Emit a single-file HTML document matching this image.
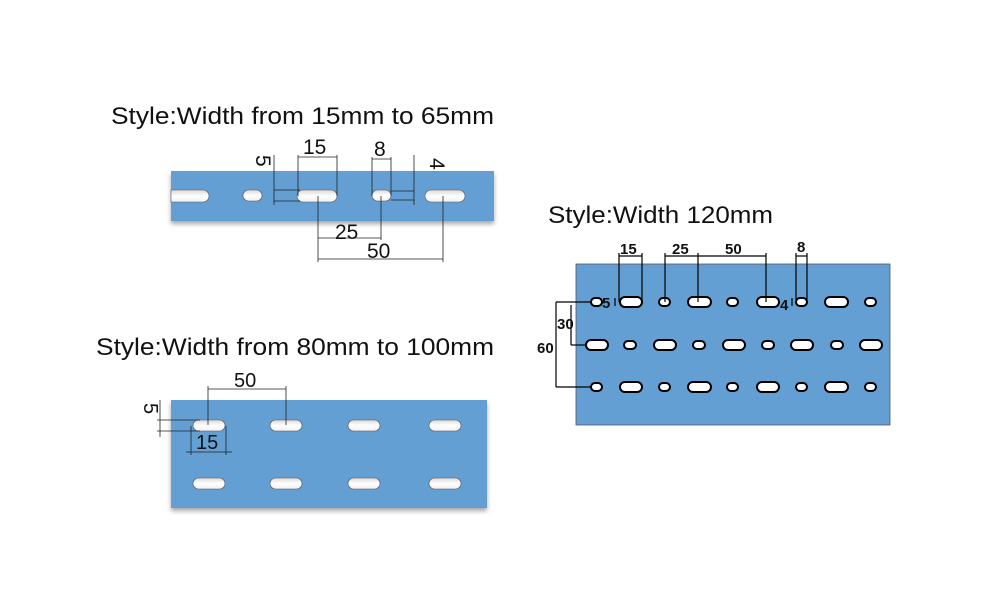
<!DOCTYPE html>
<html><head><meta charset="utf-8"><style>
html,body{margin:0;padding:0;background:#fff;width:1000px;height:600px;overflow:hidden}
text{font-family:"Liberation Sans",sans-serif;fill:#111}
</style></head><body>
<svg width="1000" height="600" viewBox="0 0 1000 600" xmlns="http://www.w3.org/2000/svg">
<defs>
<filter id="sh" x="-5%" y="-10%" width="110%" height="130%"><feDropShadow dx="0" dy="3" stdDeviation="2.5" flood-color="#000" flood-opacity="0.35"/></filter>
<linearGradient id="hole" x1="0" y1="0" x2="0" y2="1"><stop offset="0" stop-color="#d8d8d8"/><stop offset="0.5" stop-color="#fff"/><stop offset="1" stop-color="#f0f0f0"/></linearGradient>
</defs>

<text x="111" y="124" font-size="24" textLength="383" lengthAdjust="spacingAndGlyphs">Style:Width from 15mm to 65mm</text>
<text x="96" y="355" font-size="24" textLength="398" lengthAdjust="spacingAndGlyphs">Style:Width from 80mm to 100mm</text>
<text x="548" y="223" font-size="24" textLength="225" lengthAdjust="spacingAndGlyphs">Style:Width 120mm</text>

<rect x="171" y="171" width="323" height="50" fill="#649fd3" filter="url(#sh)"/>
<g fill="url(#hole)" stroke="#556" stroke-width="0.6">
<path d="M171 190 H203 A6 6 0 0 1 203 202 H171 Z" fill="url(#hole)" stroke="#556"/>
<rect x="243" y="190" width="19" height="11" rx="5.5"/>
<rect x="297" y="190" width="40" height="12" rx="6"/>
<rect x="372" y="190" width="19" height="11" rx="5.5"/>
<rect x="425" y="190" width="40" height="12" rx="6"/>
</g>
<g stroke="#222" stroke-width="0.8" fill="none">
<line x1="298" y1="157" x2="337" y2="157"/><line x1="298" y1="155" x2="298" y2="196"/><line x1="337" y1="155" x2="337" y2="196"/>
<line x1="372" y1="159" x2="391" y2="159"/><line x1="372" y1="157" x2="372" y2="196"/><line x1="391" y1="157" x2="391" y2="196"/>
<line x1="274" y1="155" x2="274" y2="205"/><line x1="274" y1="190" x2="300" y2="190"/><line x1="274" y1="201" x2="300" y2="201"/>
<line x1="414" y1="155" x2="414" y2="205"/><line x1="391" y1="191" x2="414" y2="191"/><line x1="391" y1="200" x2="414" y2="200"/>
<line x1="318" y1="196" x2="318" y2="262"/><line x1="381" y1="196" x2="381" y2="240"/><line x1="443" y1="196" x2="443" y2="262"/>
<line x1="318" y1="238" x2="381" y2="238"/><line x1="318" y1="259" x2="443" y2="259"/>
</g>
<text x="303" y="154" font-size="21">15</text>
<text x="374" y="156" font-size="21">8</text>
<text x="335" y="239" font-size="21">25</text>
<text x="367" y="258" font-size="21">50</text>
<text transform="translate(256,155) rotate(90)" font-size="21">5</text>
<text transform="translate(430,158) rotate(90)" font-size="21">4</text>

<rect x="171" y="400" width="316" height="108" fill="#649fd3" filter="url(#sh)"/>
<g fill="url(#hole)" stroke="#556" stroke-width="0.6">
<rect x="193" y="420" width="32" height="11" rx="5.5"/><rect x="270" y="420" width="32" height="11" rx="5.5"/>
<rect x="348" y="420" width="32" height="11" rx="5.5"/><rect x="429" y="420" width="32" height="11" rx="5.5"/>
<rect x="193" y="478" width="32" height="11" rx="5.5"/><rect x="270" y="478" width="32" height="11" rx="5.5"/>
<rect x="348" y="478" width="32" height="11" rx="5.5"/><rect x="429" y="478" width="32" height="11" rx="5.5"/>
</g>
<g stroke="#222" stroke-width="0.8" fill="none">
<line x1="208" y1="389" x2="286" y2="389"/><line x1="208" y1="386" x2="208" y2="425"/><line x1="286" y1="386" x2="286" y2="425"/>
<line x1="160" y1="400" x2="160" y2="437"/><line x1="157" y1="420" x2="200" y2="420"/><line x1="157" y1="431" x2="200" y2="431"/>
<line x1="191" y1="426" x2="191" y2="455"/><line x1="226" y1="426" x2="226" y2="455"/><line x1="186" y1="452" x2="232" y2="452"/>
</g>
<text x="234" y="387" font-size="20">50</text>
<text x="196" y="449" font-size="20">15</text>
<text transform="translate(144,403) rotate(90)" font-size="20">5</text>

<rect x="576" y="264" width="314" height="161" fill="#649fd3" stroke="#556" stroke-width="0.8"/>
<g fill="#fff" stroke="#000" stroke-width="2">
<rect x="591" y="298" width="11" height="8" rx="4"/><rect x="620" y="297" width="22" height="10" rx="5"/>
<rect x="659" y="298" width="11" height="8" rx="4"/><rect x="688" y="297" width="23" height="10" rx="5"/>
<rect x="727" y="298" width="11" height="8" rx="4"/><rect x="757" y="297" width="22" height="10" rx="5"/>
<rect x="796" y="298" width="11" height="8" rx="4"/><rect x="825" y="297" width="23" height="10" rx="5"/>
<rect x="865" y="298" width="11" height="8" rx="4"/>
<rect x="586" y="340" width="22" height="10" rx="5"/><rect x="624" y="341" width="12" height="8" rx="4"/>
<rect x="654" y="340" width="22" height="10" rx="5"/><rect x="693" y="341" width="12" height="8" rx="4"/>
<rect x="723" y="340" width="22" height="10" rx="5"/><rect x="762" y="341" width="12" height="8" rx="4"/>
<rect x="791" y="340" width="22" height="10" rx="5"/><rect x="831" y="341" width="12" height="8" rx="4"/>
<rect x="860" y="340" width="22" height="10" rx="5"/>
<rect x="591" y="383" width="11" height="8" rx="4"/><rect x="620" y="382" width="22" height="10" rx="5"/>
<rect x="659" y="383" width="11" height="8" rx="4"/><rect x="688" y="382" width="23" height="10" rx="5"/>
<rect x="727" y="383" width="11" height="8" rx="4"/><rect x="757" y="382" width="22" height="10" rx="5"/>
<rect x="796" y="383" width="11" height="8" rx="4"/><rect x="825" y="382" width="23" height="10" rx="5"/>
<rect x="865" y="383" width="11" height="8" rx="4"/>
</g>
<g stroke="#000" stroke-width="1.2" fill="none">
<line x1="619" y1="256" x2="642" y2="256"/><line x1="619" y1="253" x2="619" y2="302"/><line x1="642" y1="253" x2="642" y2="300"/>
<line x1="665" y1="256" x2="766" y2="256"/><line x1="665" y1="253" x2="665" y2="302"/><line x1="698" y1="253" x2="698" y2="302"/><line x1="766" y1="253" x2="766" y2="302"/>
<line x1="796" y1="256" x2="807" y2="256"/><line x1="796" y1="253" x2="796" y2="300"/><line x1="807" y1="253" x2="807" y2="300"/>
<line x1="556" y1="302" x2="591" y2="302"/><line x1="556" y1="302" x2="556" y2="387"/><line x1="556" y1="387" x2="591" y2="387"/>
<line x1="571" y1="305" x2="571" y2="345"/><line x1="571" y1="345" x2="586" y2="345"/>
<line x1="615" y1="298" x2="615" y2="306"/><line x1="792" y1="298" x2="792" y2="306"/>
</g>
<g font-weight="bold" font-size="15">
<text x="620" y="254">15</text><text x="672" y="254">25</text><text x="725" y="254">50</text><text x="797" y="252">8</text>
<text x="557" y="329">30</text><text x="537" y="353">60</text>
<text x="602" y="308">5</text><text x="780" y="310">4</text>
</g>
</svg>
</body></html>
